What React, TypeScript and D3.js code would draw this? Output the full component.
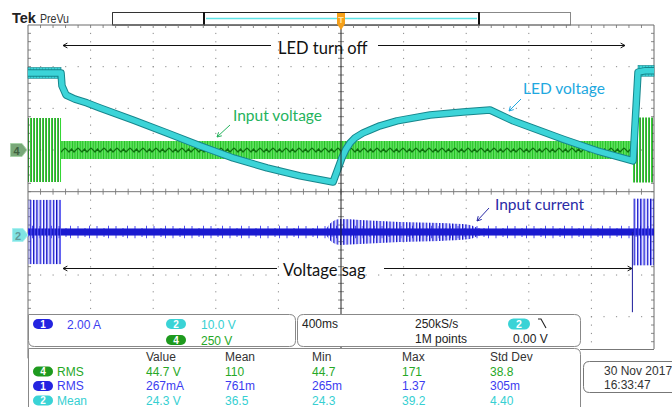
import React from 'react';
import * as d3 from 'd3';

// ---------- data ----------
// time axis: ms relative to trigger, 400 ms/div, 10 divisions
const timeDomain = [-2000, 2000];

// Ch2 LED voltage, 10 V/div
const ledTimeMs = [-2000, -1789, -1783, -1757, -1700, -1623, -1540, -1329, -1112, -901, -690, -473, -262, -51, 6, 32, 58, 89, 141, 185, 249, 358, 569, 780, 952, 1099, 1419, 1636, 1866, 1898, 1942, 2000];
const ledVolts = [38.9, 38.9, 35.8, 33.6, 32.6, 31.7, 30.5, 27.6, 24.5, 21.4, 18.5, 16.1, 14.2, 12.7, 18.5, 20.6, 22.1, 23.3, 24.5, 25.2, 26.2, 27.4, 28.8, 29.5, 30.0, 27.4, 23.0, 20.2, 17.8, 39.1, 39.4, 39.4];
const ledNoisyStart = [-2000, 1898];
const ledNoisyEnd = [-1789, 2000];

// Ch4 input voltage, 250 V/div (envelope segments)
const inputSegStart = [-2000, -1789, 1866];
const inputSegEnd = [-1789, 1866, 2000];
const inputSegAmp = [192, 54, 195];
const inputSegKind = ['burst', 'band', 'burst'];

// Ch1 input current, 2 A/div
const currentCoreAmp = 0.17;
const currentSpikeAmp = 0.3;
const currentEdgeStart = [-2000, 1866];
const currentEdgeEnd = [-1789, 2000];
const currentEdgeAmp = [1.54, 1.6];
const currentBurstTime = [-96, -58, -6, 121, 377, 633, 824, 875, 901];
const currentBurstAmp = [0.14, 0.48, 0.62, 0.58, 0.48, 0.43, 0.34, 0.19, 0.14];
const currentDropTime = 1862;
const currentDropVal = -3.85;

// panel texts
const chanRows = [
  { ch: '1', text: '2.00 A' },
  { ch: '2', text: '10.0 V' },
  { ch: '4', text: '250 V' },
];
const measHeader = ['Value', 'Mean', 'Min', 'Max', 'Std Dev'];
const measLabels = [
  { ch: '4', name: 'RMS' },
  { ch: '1', name: 'RMS' },
  { ch: '2', name: 'Mean' },
];
const measValues = [
  ['44.7 V', '110', '44.7', '171', '38.8'],
  ['267mA', '761m', '265m', '1.37', '305m'],
  ['24.3 V', '36.5', '24.3', '39.2', '4.40'],
];

// ---------- styling ----------
const GX0 = 28, GX1 = 654, GY0 = 25;
const DX = 62.6, DY = 41.67;
const GY1 = GY0 + 8 * DY;
const colX = [146, 225, 312, 402, 490];
const chColor: Record<string, string> = { '1': '#2424e0', '2': '#3ad3d6', '4': '#1e9a1e' };
const chText: Record<string, string> = { '1': '#3c3cf0', '2': '#36cfd2', '4': '#26a826' };
const uiFont = '"Liberation Sans", Arial, sans-serif';
const annFont = 'Lato, "Open Sans", sans-serif';

function arrowPath(x1: number, y1: number, x2: number, y2: number, L = 5) {
  const a = Math.atan2(y2 - y1, x2 - x1);
  const h1 = [x2 - L * Math.cos(a - 0.5), y2 - L * Math.sin(a - 0.5)];
  const h2 = [x2 - L * Math.cos(a + 0.5), y2 - L * Math.sin(a + 0.5)];
  return `M${x1},${y1}L${x2},${y2}M${h1[0]},${h1[1]}L${x2},${y2}L${h2[0]},${h2[1]}`;
}

function Badge({ x, y, ch }: { x: number; y: number; ch: string }) {
  return (
    <g>
      <rect x={x} y={y} width={20} height={10} rx={5} fill={chColor[ch]} />
      <text x={x + 10} y={y + 8.6} textAnchor="middle" fontFamily={uiFont} fontWeight="bold" fontSize={10} fill="#fff">{ch}</text>
    </g>
  );
}

export default function App() {
  const x = d3.scaleLinear().domain(timeDomain).range([GX0, GX1]);
  const yLed = d3.scaleLinear().domain([0, 10]).range([235, 235 - DY]);
  const yIn = d3.scaleLinear().domain([0, 250]).range([150, 150 - DY]);
  const yCur = d3.scaleLinear().domain([0, 2]).range([232, 232 - DY]);

  // grid dots
  const dots: JSX.Element[] = [];
  for (let i = 1; i < 10; i++) {
    if (i === 5) continue;
    for (let k = 1; k < 40; k++) {
      dots.push(<rect key={`v${i}-${k}`} x={GX0 + i * DX - 0.5} y={GY0 + k * (DY / 5) - 0.5} width={1} height={1.2} fill="#8a8a8a" />);
    }
  }
  for (let j = 1; j < 8; j++) {
    if (j === 4) continue;
    for (let k = 1; k < 50; k++) {
      dots.push(<rect key={`h${j}-${k}`} x={GX0 + k * (DX / 5) - 0.5} y={GY0 + j * DY - 0.5} width={1.2} height={1} fill="#8a8a8a" />);
    }
  }
  const ticks: string[] = [];
  const cx = GX0 + 5 * DX, cy = GY0 + 4 * DY;
  for (let k = 1; k < 40; k++) {
    const yy = GY0 + k * (DY / 5);
    ticks.push(`M${cx - 3},${yy}H${cx + 3}`);
    ticks.push(`M${GX0},${yy}H${GX0 + 3}`);
    ticks.push(`M${GX1 - 3},${yy}H${GX1}`);
  }
  for (let k = 1; k < 50; k++) {
    const xx = GX0 + k * (DX / 5);
    ticks.push(`M${xx},${cy - 3}V${cy + 3}`);
    ticks.push(`M${xx},${GY0}V${GY0 + 3}`);
  }

  // ch4 segments
  const inSegs = inputSegStart.map((s, i) => ({ s, e: inputSegEnd[i], a: inputSegAmp[i], k: inputSegKind[i] }));

  // ch2 line
  const ledPts = ledTimeMs.map((t, i) => [t, ledVolts[i]] as [number, number]);
  const ledLine = d3.line<[number, number]>().x(d => x(d[0])).y(d => yLed(d[1]))(ledPts) || '';

  // current
  const burstPts = currentBurstTime.map((t, i) => [t, currentBurstAmp[i]] as [number, number]);
  const burstArea = d3.area<[number, number]>().x(d => x(d[0])).y0(d => yCur(-d[1])).y1(d => yCur(d[1])).curve(d3.curveMonotoneX)(burstPts) || '';

  const ledColorMid = '#3cd4d8';
  const ledColorEdge = '#16868c';

  return (
    <svg width={672} height={407} viewBox="0 0 672 407" style={{ position: 'absolute', left: 0, top: 0, background: '#fff' }}>
      <defs>
        <pattern id="gBurst" patternUnits="userSpaceOnUse" x={0} y={0} width={3} height={4}>
          <rect x={0} y={0} width={1.1} height={4} fill="#33d633" />
          <rect x={1.1} y={0} width={0.8} height={4} fill="#117a11" />
        </pattern>
        <pattern id="gBand" patternUnits="userSpaceOnUse" x={0} y={0} width={2.6} height={4}>
          <rect x={0} y={0} width={1.3} height={4} fill="#52ea52" />
          <rect x={1.3} y={0} width={1.3} height={4} fill="#22bb22" />
        </pattern>
        <pattern id="gZig" patternUnits="userSpaceOnUse" x={0} y={141} width={13} height={18}>
          <path d="M0,7 L4,11 L6.5,8 L9,11 L13,7" fill="none" stroke="#0d6e0d" strokeWidth={1.2} />
        </pattern>
        <pattern id="bBurst" patternUnits="userSpaceOnUse" x={0} y={0} width={3.3} height={4}>
          <rect x={0} y={0} width={1} height={4} fill="#1414b8" />
          <rect x={1} y={0} width={0.9} height={4} fill="#5a5aff" />
        </pattern>
        <pattern id="bSpike" patternUnits="userSpaceOnUse" x={0} y={224} width={19} height={17}>
          <path d="M2,2V15M9,4V13M13.5,1V16" stroke="#3c3cee" strokeWidth={0.9} />
        </pattern>
        <pattern id="cNoise" patternUnits="userSpaceOnUse" x={0} y={0} width={3} height={3}>
          <rect x={0} y={0} width={3} height={3} fill={ledColorMid} />
          <rect x={0} y={0} width={0.8} height={3} fill="#2aaeb3" />
        </pattern>
      </defs>

      {/* top bar */}
      <text x={12} y={23} fontFamily={uiFont} fontWeight="bold" fontSize={14.5} fill="#222">Tek</text>
      <text x={40} y={23} fontFamily={uiFont} fontSize={12} fill="#333" textLength={29} lengthAdjust="spacingAndGlyphs">PreVu</text>
      <rect x={112.5} y={12.5} width={458} height={12.5} fill="#fff" stroke="#888" />
      <path d="M112.5,12.5H204M112.5,25H204M112.5,12.5V25" stroke="#333" fill="none" />
      <rect x={204} y={12.5} width={275} height={12.5} fill="#fff" stroke="#222" strokeWidth={1} />
      <path d="M204,12V25.5M479,12V25.5" stroke="#111" strokeWidth={2} />
      <path d="M206,18.5H477" stroke="#5ee3e6" strokeWidth={1.6} />

      {/* graticule */}
      <g>{dots}</g>
      <path d={ticks.join('')} stroke="#8a8a8a" strokeWidth={1} />
      <path d={`M${GX0},${GY0}H${GX1}V${GY1}M${GX0},${GY0}V${GY1}`} stroke="#6a6a6a" fill="none" />
      <path d={`M${GX0},${cy}H${GX1}`} stroke="#777" strokeWidth={1} />

      {/* Ch4 input voltage */}
      {inSegs.map((sg, i) => (
        <g key={`in${i}`}>
          <rect x={x(sg.s)} y={yIn(sg.a)} width={x(sg.e) - x(sg.s)} height={yIn(-sg.a) - yIn(sg.a)}
            fill={sg.k === 'burst' ? 'url(#gBurst)' : 'url(#gBand)'} />
          {sg.k === 'band' && (
            <rect x={x(sg.s)} y={yIn(sg.a)} width={x(sg.e) - x(sg.s)} height={yIn(-sg.a) - yIn(sg.a)} fill="url(#gZig)" />
          )}
        </g>
      ))}

      {/* Ch2 LED voltage */}
      {ledNoisyStart.map((s, i) => (
        <rect key={`ln${i}`} x={x(s)} y={yLed(ledVolts[i === 0 ? 0 : ledVolts.length - 1] + 1.3)} width={x(ledNoisyEnd[i]) - x(s)}
          height={yLed(-1.3) - yLed(1.3)} fill="url(#cNoise)" stroke={ledColorEdge} strokeWidth={0.6} />
      ))}
      <path d={ledLine} fill="none" stroke={ledColorEdge} strokeWidth={7.5} strokeLinejoin="round" />
      <path d={ledLine} fill="none" stroke={ledColorMid} strokeWidth={5.5} strokeLinejoin="round" />

      {/* Ch1 input current */}
      <rect x={x(timeDomain[0])} y={yCur(currentSpikeAmp)} width={x(timeDomain[1]) - x(timeDomain[0])}
        height={yCur(-currentSpikeAmp) - yCur(currentSpikeAmp)} fill="url(#bSpike)" />
      <path d={burstArea} fill="url(#bBurst)" />
      <rect x={x(timeDomain[0])} y={yCur(currentCoreAmp)} width={x(timeDomain[1]) - x(timeDomain[0])}
        height={yCur(-currentCoreAmp) - yCur(currentCoreAmp)} fill="#1a1ad0" />
      {currentEdgeStart.map((s, i) => (
        <rect key={`ce${i}`} x={x(s)} y={yCur(currentEdgeAmp[i])} width={x(currentEdgeEnd[i]) - x(s)}
          height={yCur(-currentEdgeAmp[i]) - yCur(currentEdgeAmp[i])} fill="url(#bBurst)" />
      ))}
      <path d={`M${x(currentDropTime)},${yCur(0)}V${yCur(currentDropVal)}`} stroke="#1a1a9a" strokeWidth={1} />

      {/* center vertical line */}
      <path d={`M${cx},${GY0}V${GY1}`} stroke="#222" strokeWidth={1} />

      {/* trigger marker */}
      <path d={`M${cx - 4},13 H${cx + 4} V24 L${cx},30 L${cx - 4},24 Z`} fill="#f5a01a" />
      <text x={cx} y={23} textAnchor="middle" fontFamily={uiFont} fontWeight="bold" fontSize={9} fill="#ffe3a8">T</text>

      {/* annotations */}
      <text x={278} y={54} fontFamily={annFont} fontSize={16.5} fill="#111">LED turn off</text>
      <path d={arrowPath(271, 45.5, 63, 45.5)} stroke="#111" fill="none" strokeWidth={1} />
      <path d={arrowPath(378, 45.5, 625, 45.5)} stroke="#111" fill="none" strokeWidth={1} />
      <text x={283} y={276} fontFamily={annFont} fontSize={16.5} fill="#111">Voltage sag</text>
      <path d={arrowPath(277, 268.5, 63, 268.5)} stroke="#111" fill="none" strokeWidth={1} />
      <path d={arrowPath(384, 268.5, 632, 268.5)} stroke="#111" fill="none" strokeWidth={1} />
      <text x={233} y={121} fontFamily={annFont} fontSize={15.5} fill="#25b35d">Input voltage</text>
      <path d={arrowPath(230, 125, 217, 137)} stroke="#25b35d" fill="none" strokeWidth={1} />
      <text x={523} y={94} fontFamily={annFont} fontSize={15.5} fill="#20a8e0">LED voltage</text>
      <path d={arrowPath(521, 99, 509, 111)} stroke="#20a8e0" fill="none" strokeWidth={1} />
      <text x={495} y={210} fontFamily={annFont} fontSize={15.5} fill="#2a2aa6">Input current</text>
      <path d={arrowPath(489, 208, 477, 221)} stroke="#2a2aa6" fill="none" strokeWidth={1} />

      {/* left channel markers */}
      <path d="M10.5,143.5H22L27,150L22,156.5H10.5Z" fill="#79a879" stroke="#a8d4a8" />
      <text x={16.5} y={154.5} textAnchor="middle" fontFamily={uiFont} fontWeight="bold" fontSize={11} fill="#3f603f">4</text>
      <path d="M12.5,228.5H23L28,235L23,241.5H12.5Z" fill="#7fe3e3" stroke="#a8f0f0" />
      <text x={18} y={239.5} textAnchor="middle" fontFamily={uiFont} fontWeight="bold" fontSize={11} fill="#5f9a9a">2</text>

      {/* lower right region below graticule */}
      <rect x={580} y={349} width={92} height={58} fill="#fff" />
      <path d="M580,349.5H654" stroke="#777" />

      {/* channel panel */}
      <path d="M28.5,314.5H289.5Q295.5,314.5 295.5,320.5V340.5Q295.5,346.5 289.5,346.5H34.5Q28.5,346.5 28.5,340.5Z" fill="#fff" stroke="#888" />
      <Badge x={33} y={319} ch="1" />
      <text x={67} y={328.5} fontFamily={uiFont} fontSize={12} fill={chText['1']}>{chanRows[0].text}</text>
      <Badge x={166} y={319} ch="2" />
      <text x={201} y={328.5} fontFamily={uiFont} fontSize={12} fill={chText['2']}>{chanRows[1].text}</text>
      <Badge x={166} y={335} ch="4" />
      <text x={201} y={344.5} fontFamily={uiFont} fontSize={12} fill={chText['4']}>{chanRows[2].text}</text>

      {/* timebase panel */}
      <path d="M303.5,314.5H574.5Q580.5,314.5 580.5,320.5V340.5Q580.5,346.5 574.5,346.5H303.5Q297.5,346.5 297.5,340.5V320.5Q297.5,314.5 303.5,314.5Z" fill="#fff" stroke="#888" />
      <text x={302} y={328} fontFamily={uiFont} fontSize={12} fill="#222">400ms</text>
      <text x={415} y={328} fontFamily={uiFont} fontSize={12} fill="#222">250kS/s</text>
      <text x={415} y={343} fontFamily={uiFont} fontSize={12} fill="#222">1M points</text>
      <rect x={508} y={318.5} width={22} height={11} rx={5.5} fill={chColor['2']} />
      <text x={519} y={327.7} textAnchor="middle" fontFamily={uiFont} fontWeight="bold" fontSize={10.5} fill="#fff">2</text>
      <path d="M538,319H541L546,328" stroke="#222" fill="none" strokeWidth={1.1} />
      <text x={513} y={343} fontFamily={uiFont} fontSize={12} fill="#222">0.00 V</text>

      {/* measurement panel */}
      <path d="M28.5,348.5H574.5Q580.5,348.5 580.5,354.5V412H28.5Z" fill="#fff" stroke="#888" />
      {measHeader.map((h, i) => (
        <text key={h} x={colX[i]} y={361} fontFamily={uiFont} fontSize={12} fill="#333">{h}</text>
      ))}
      {measLabels.map((m, r) => (
        <g key={`r${r}`}>
          <Badge x={33} y={366.5 + r * 14.5} ch={m.ch} />
          <text x={57} y={375.8 + r * 14.5} fontFamily={uiFont} fontSize={12} fill={chText[m.ch]}>{m.name}</text>
          {measValues[r].map((v, c) => (
            <text key={c} x={colX[c]} y={375.8 + r * 14.5} fontFamily={uiFont} fontSize={12} fill={chText[m.ch]}>{v}</text>
          ))}
        </g>
      ))}

      {/* date box */}
      <path d="M680,361.5H589.5Q583.5,361.5 583.5,367.5V386.5Q583.5,392.5 589.5,392.5H680" fill="#fff" stroke="#777" />
      <text x={604} y={374.5} fontFamily={uiFont} fontSize={12} fill="#333">30 Nov 2017</text>
      <text x={604} y={389} fontFamily={uiFont} fontSize={12} fill="#333">16:33:47</text>
    </svg>
  );
}
